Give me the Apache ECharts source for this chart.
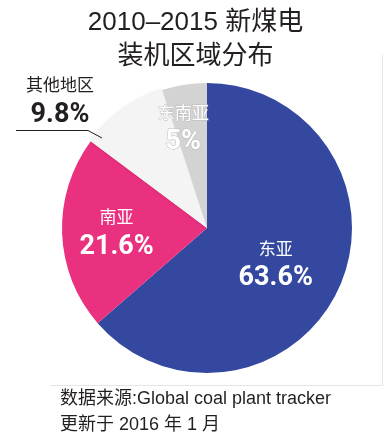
<!DOCTYPE html>
<html lang="zh-CN">
<head>
    <meta charset="UTF-8">
    <title>2010-2015 新煤电装机区域分布</title>
    <script src="https://cdn.jsdelivr.net/npm/echarts@6/dist/echarts.min.js"></script>
    <style>
        body, html { margin: 0; padding: 0; width: 100%; height: 100%; background: #fff; }
        #main { width: 391px; height: 445px; }
    </style>
</head>
<body>
    <div id="main"></div>
    <script>
        // 数据
        const regions = ['东亚', '南亚', '其他地区', '东南亚'];
        const shares = [63.6, 21.6, 9.8, 5];
        const sliceColors = ['#34489f', '#e9317f', '#f4f4f4', '#d3d3d3'];

        const titleLines = ['2010–2015 新煤电', '装机区域分布'];
        const sourceLines = ['数据来源:Global coal plant tracker', '更新于 2016 年 1 月'];

        const numFont = 'Roboto, "Liberation Sans", sans-serif';
        const cjkFont = '"Noto Sans CJK SC", sans-serif';

        // 每个扇区标签的微调
        const labelShift = {
            '东亚': [0, 5],
            '南亚': [-15, 2],
            '东南亚': [-12, -25]
        };

        const chart = echarts.init(document.getElementById('main'));

        function richStyle(color, border) {
            const extra = border ? { textBorderColor: border, textBorderWidth: 1 } : {};
            return {
                n: Object.assign({ fontFamily: cjkFont, fontSize: 17, color: color, lineHeight: 28 }, extra),
                v: Object.assign({ fontFamily: numFont, fontWeight: 'bold', fontSize: 27, color: color, lineHeight: 32 }, extra)
            };
        }

        const option = {
            backgroundColor: '#fff',
            animation: false,
            title: {
                text: titleLines.join('\n'),
                left: 'center',
                top: 1,
                textStyle: {
                    fontFamily: '"Liberation Sans", ' + cjkFont,
                    fontSize: 26,
                    fontWeight: 'normal',
                    color: '#231f20',
                    lineHeight: 34
                }
            },
            graphic: [
                {
                    type: 'polyline',
                    shape: { points: [[50, 385.5], [382.5, 385.5], [382.5, 55]] },
                    style: { stroke: '#e6e6e6', lineWidth: 1, fill: null }
                },
                // 其他地区 引线
                {
                    type: 'polyline',
                    z: 10,
                    shape: { points: [[16, 130.5], [88, 130.5], [102, 138]] },
                    style: { stroke: '#231f20', lineWidth: 1, fill: null }
                },
                {
                    type: 'text',
                    left: 60,
                    top: 386,
                    style: {
                        text: sourceLines.join('\n'),
                        font: '18px "Liberation Sans", ' + cjkFont,
                        fill: '#231f20',
                        lineHeight: 26
                    }
                }
            ],
            series: [{
                type: 'pie',
                center: [207, 228],
                radius: 145,
                startAngle: 90,
                clockwise: true,
                silent: true,
                label: {
                    position: 'inside',
                    align: 'center',
                    formatter: p => '{n|' + p.name + '}\n{v|' + p.value + '%}',
                    rich: richStyle('#fff')
                },
                labelLine: { show: false },
                labelLayout: function (params) {
                    const name = regions[params.dataIndex];
                    if (name === '其他地区') {
                        return { x: 60, y: 71, align: 'center', verticalAlign: 'top' };
                    }
                    const s = labelShift[name] || [0, 0];
                    return { dx: s[0], dy: s[1] };
                },
                data: regions.map((name, i) => {
                    const item = {
                        name: name,
                        value: shares[i],
                        itemStyle: { color: sliceColors[i] }
                    };
                    if (name === '其他地区') {
                        item.itemStyle.shadowColor = 'rgba(0,0,0,0.12)';
                        item.itemStyle.shadowBlur = 4;
                        item.label = {
                            position: 'outside',
                            overflow: 'none',
                            width: 120,
                            align: 'center',
                            rich: richStyle('#231f20')
                        };
                    }
                    if (name === '东南亚') {
                        item.label = { rich: richStyle('#fff', '#bcbcbc') };
                    }
                    return item;
                })
            }]
        };

        chart.setOption(option);
    </script>
</body>
</html>
